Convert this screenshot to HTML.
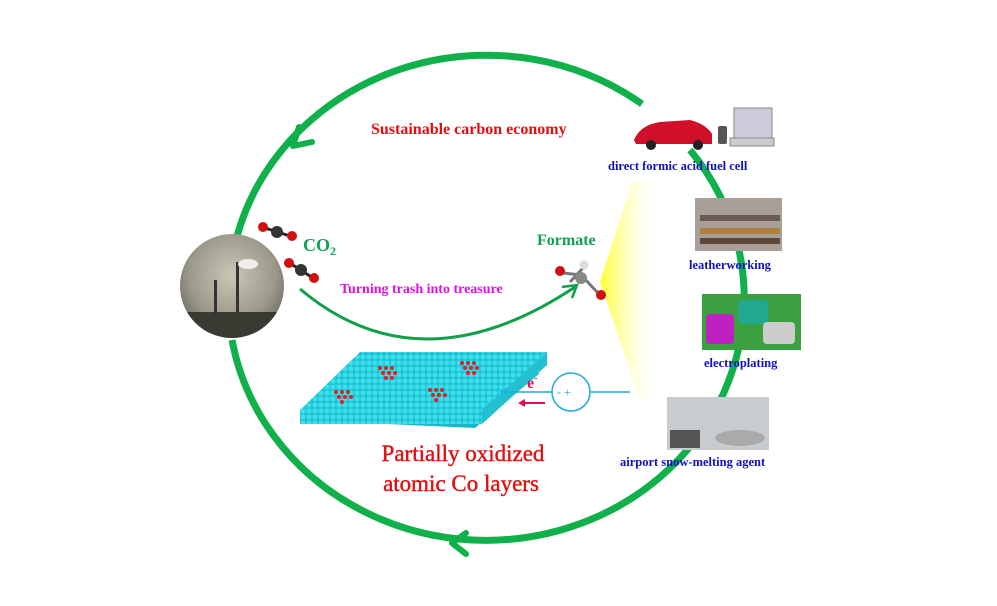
<!DOCTYPE html>
<html><head><meta charset="utf-8"><style>
html,body{margin:0;padding:0;background:#fff;}
svg{display:block;}
text{font-family:"Liberation Serif",serif;font-weight:bold;}
</style></head><body>
<svg width="997" height="606" viewBox="0 0 997 606" xmlns="http://www.w3.org/2000/svg">
<defs>
<linearGradient id="yel" x1="0" x2="1" y1="0" y2="0">
<stop offset="0" stop-color="#ffff30"/><stop offset="1" stop-color="#ffffff" stop-opacity="0"/>
</linearGradient>
<radialGradient id="sky" cx="0.5" cy="0.4" r="0.6">
<stop offset="0" stop-color="#c9c7b8"/><stop offset="0.7" stop-color="#9a9888"/><stop offset="1" stop-color="#6e6c60"/>
</radialGradient>
<pattern id="dots" width="6" height="6" patternUnits="userSpaceOnUse">
<rect width="6" height="6" fill="#1fc6d6"/><circle cx="3" cy="3" r="2.4" fill="#3fe0ee"/>
</pattern>
<clipPath id="pc"><circle cx="232" cy="286" r="52"/></clipPath>
</defs>

<polygon points="600,282 632,182 660,182 660,400 640,400" fill="url(#yel)"/>

<path d="M642,104 A258,242 0 0 0 236,240" fill="none" stroke="#10b04a" stroke-width="7"/>
<path d="M690,150 A258,242 0 1 1 232,340" fill="none" stroke="#10b04a" stroke-width="7"/>
<path d="M299,127 L293,146 L312,142" fill="none" stroke="#10b04a" stroke-width="6" stroke-linecap="round" stroke-linejoin="round"/>
<path d="M466,533 L452,543 L466,554" fill="none" stroke="#10b04a" stroke-width="6" stroke-linecap="round" stroke-linejoin="round"/>

<path d="M300,289 Q420,390 575,287" fill="none" stroke="#10a04a" stroke-width="3"/>
<path d="M562,287 L577,285 L572,298" fill="none" stroke="#10a04a" stroke-width="2.5"/>

<circle cx="232" cy="286" r="52" fill="url(#sky)"/>
<g clip-path="url(#pc)">
<rect x="180" y="312" width="110" height="30" fill="#3a3a32"/>
<rect x="236" y="262" width="3" height="52" fill="#333"/>
<rect x="214" y="280" width="3" height="36" fill="#333"/>
<ellipse cx="248" cy="264" rx="10" ry="5" fill="#f0eee8"/>
</g>

<g stroke="#222" stroke-width="3"><line x1="262" y1="227" x2="290" y2="236"/><line x1="288" y1="262" x2="313" y2="278"/></g>
<circle cx="263" cy="227" r="5" fill="#d01010"/><circle cx="277" cy="232" r="6" fill="#333"/><circle cx="292" cy="236" r="5" fill="#d01010"/>
<circle cx="289" cy="263" r="5" fill="#d01010"/><circle cx="301" cy="270" r="6" fill="#333"/><circle cx="314" cy="278" r="5" fill="#d01010"/>
<text x="303" y="251" fill="#10a050" font-size="18">CO<tspan font-size="12" dy="4">2</tspan></text>

<text x="537" y="245" fill="#10a050" font-size="16">Formate</text>
<g stroke="#777" stroke-width="3"><line x1="570" y1="282" x2="583" y2="268"/><line x1="581" y1="275" x2="598" y2="293"/><line x1="581" y1="275" x2="563" y2="273"/></g>
<circle cx="584" cy="265" r="4.5" fill="#ddd"/>
<circle cx="581" cy="278" r="6" fill="#888"/>
<circle cx="560" cy="271" r="5" fill="#d01010"/>
<circle cx="601" cy="295" r="5" fill="#d01010"/>

<text x="340" y="293" fill="#e010e0" font-size="14">Turning trash into treasure</text>
<text x="371" y="134" fill="#e01010" font-size="16">Sustainable carbon economy</text>

<polygon points="300,420 355,373 540,373 475,428" fill="#18b8c8"/>
<polygon points="300,410 360,352 547,352 482,410" fill="url(#dots)"/>
<polygon points="300,410 482,410 482,424 300,424" fill="url(#dots)"/>
<polygon points="482,410 547,352 547,365 482,424" fill="#22c0d0"/>
<g fill="#e02020">
<g transform="translate(380,368)"><circle cx="0" cy="0" r="2"/><circle cx="6" cy="0" r="2"/><circle cx="12" cy="0" r="2"/><circle cx="3" cy="5" r="2"/><circle cx="9" cy="5" r="2"/><circle cx="15" cy="5" r="2"/><circle cx="6" cy="10" r="2"/><circle cx="12" cy="10" r="2"/></g>
<g transform="translate(462,363)"><circle cx="0" cy="0" r="2"/><circle cx="6" cy="0" r="2"/><circle cx="12" cy="0" r="2"/><circle cx="3" cy="5" r="2"/><circle cx="9" cy="5" r="2"/><circle cx="15" cy="5" r="2"/><circle cx="6" cy="10" r="2"/><circle cx="12" cy="10" r="2"/></g>
<g transform="translate(336,392)"><circle cx="0" cy="0" r="2"/><circle cx="6" cy="0" r="2"/><circle cx="12" cy="0" r="2"/><circle cx="3" cy="5" r="2"/><circle cx="9" cy="5" r="2"/><circle cx="15" cy="5" r="2"/><circle cx="6" cy="10" r="2"/></g>
<g transform="translate(430,390)"><circle cx="0" cy="0" r="2"/><circle cx="6" cy="0" r="2"/><circle cx="12" cy="0" r="2"/><circle cx="3" cy="5" r="2"/><circle cx="9" cy="5" r="2"/><circle cx="15" cy="5" r="2"/><circle cx="6" cy="10" r="2"/></g>
</g>

<line x1="500" y1="392" x2="552" y2="392" stroke="#1aa8e0" stroke-width="1.5"/>
<line x1="591" y1="392" x2="630" y2="392" stroke="#1aa8e0" stroke-width="1.5"/>
<circle cx="571" cy="392" r="19" fill="#fff" stroke="#1aa8e0" stroke-width="1.5"/>
<text x="557" y="396" fill="#1aa8e0" font-size="12" style="font-weight:normal">- +</text>
<text x="527" y="388" fill="#e01050" font-size="16">e<tspan font-size="10" dy="-7">-</tspan></text>
<line x1="520" y1="403" x2="545" y2="403" stroke="#e01050" stroke-width="2"/>
<path d="M525,399 L518,403 L525,407 Z" fill="#e01050"/>

<text x="463" y="461" fill="#e01010" font-size="23" text-anchor="middle" stroke="#e01010" stroke-width="0.4" style="font-weight:normal">Partially oxidized</text>
<text x="461" y="491" fill="#e01010" font-size="23" text-anchor="middle" stroke="#e01010" stroke-width="0.4" style="font-weight:normal">atomic Co layers</text>

<path d="M634,140 Q640,125 660,122 L690,120 Q706,124 712,134 L712,144 L636,144 Z" fill="#d0102a"/>
<circle cx="651" cy="145" r="5" fill="#222"/><circle cx="698" cy="145" r="5" fill="#222"/>
<rect x="718" y="126" width="9" height="18" rx="2" fill="#555"/>
<rect x="734" y="108" width="38" height="30" fill="#ccd" stroke="#888"/>
<rect x="730" y="138" width="44" height="8" fill="#ccc" stroke="#888"/>
<text x="608" y="170" fill="#1010c0" font-size="12.5">direct formic acid fuel cell</text>

<rect x="695" y="198" width="87" height="53" fill="#a89f98"/>
<rect x="700" y="215" width="80" height="6" fill="#6a5a58"/><rect x="700" y="228" width="80" height="6" fill="#b08040"/><rect x="700" y="238" width="80" height="6" fill="#604838"/>
<text x="689" y="269" fill="#1010c0" font-size="12.5">leatherworking</text>

<rect x="702" y="294" width="99" height="56" fill="#3aa040"/>
<rect x="706" y="314" width="28" height="30" rx="4" fill="#c020c0"/>
<rect x="738" y="300" width="30" height="24" rx="4" fill="#20a890"/>
<rect x="763" y="322" width="32" height="22" rx="4" fill="#ccc"/>
<text x="704" y="367" fill="#1010c0" font-size="12.5">electroplating</text>

<rect x="667" y="397" width="102" height="53" fill="#c8ccd0"/>
<rect x="670" y="430" width="30" height="18" fill="#555"/>
<ellipse cx="740" cy="438" rx="25" ry="8" fill="#aaa"/>
<text x="620" y="466" fill="#1010c0" font-size="12.5">airport snow-melting agent</text>
</svg>
</body></html>
